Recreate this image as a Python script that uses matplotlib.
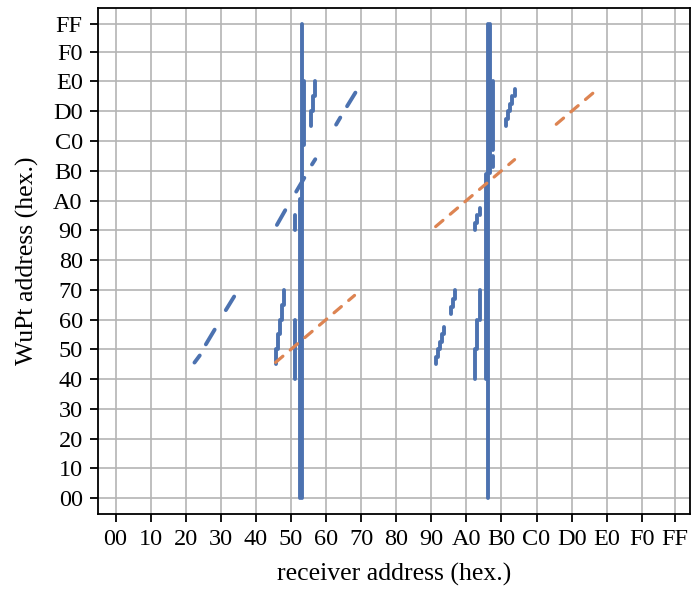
import matplotlib
matplotlib.use("Agg")
import matplotlib.pyplot as plt
from matplotlib.collections import LineCollection

plt.rcParams['font.family'] = ['Liberation Serif', 'DejaVu Serif']

# ---------------- data ----------------
# tick positions / labels (hex)
tick_vals = [0, 16, 32, 48, 64, 80, 96, 112, 128, 144, 160, 176, 192, 208, 224, 240, 255]
tick_labels = ['00', '10', '20', '30', '40', '50', '60', '70', '80', '90',
               'A0', 'B0', 'C0', 'D0', 'E0', 'F0', 'FF']

# blue: vertical runs of WuPt addresses waking a receiver (x, y from, y to)
run_x = [85, 84, 86, 82, 82,
         73, 74, 75, 76, 77,
         89, 90, 91,
         170, 171, 169, 172, 172,
         146, 147, 148, 149, 150,
         153, 154, 155,
         164, 165, 166,
         178, 179, 180, 181, 182,
         164, 165, 166]
run_y0 = [0, 0, 190, 64, 144,
          72, 80, 88, 96, 104,
          200, 208, 216,
          0, 175, 64, 187, 178,
          72, 76, 80, 84, 88,
          99, 103, 107,
          144, 148, 152,
          200, 204, 208, 212, 216,
          64, 80, 96]
run_y1 = [255, 161, 224, 96, 152,
          80, 88, 96, 104, 112,
          208, 216, 224,
          255, 255, 174, 224, 184,
          76, 80, 84, 88, 92,
          103, 107, 112,
          148, 152, 156,
          204, 208, 212, 216, 220,
          80, 96, 112]

# blue: short diagonal pieces (start x, start y, end x, end y)
diag_x0 = [36.0, 41.2, 50.3, 73.6, 82.4, 89.6, 100.6, 105.6]
diag_y0 = [72.9, 82.7, 101.1, 146.9, 164.8, 179.4, 200.8, 210.7]
diag_x1 = [38.4, 45.2, 54.1, 77.4, 86.1, 91.1, 102.5, 109.4]
diag_y1 = [76.7, 90.6, 108.4, 154.8, 172.2, 182.2, 204.6, 218.0]

# orange: intended wake-ups (receiver == WuPt address), pieces
orange_x0 = [73, 146, 201]
orange_x1 = [109, 182, 218]
orange_y0 = [73, 146, 201]
orange_y1 = [109, 182, 218]

BLUE = '#4C72B0'
ORANGE = '#DD8452'

# ---------------- figure ----------------
fig = plt.figure(figsize=(6.93, 5.95), dpi=100)
ax = fig.add_axes([98 / 693, 1 - 514 / 595, 592 / 693, 506 / 595])

segs = [[(x, a), (x, b)] for x, a, b in zip(run_x, run_y0, run_y1)]
segs += [[(a, b), (c, d)] for a, b, c, d in zip(diag_x0, diag_y0, diag_x1, diag_y1)]
lc = LineCollection(segs, colors=BLUE, linewidths=2.8, capstyle='round', zorder=3)
ax.add_collection(lc)

for a, b, c, d in zip(orange_x0, orange_y0, orange_x1, orange_y1):
    ax.plot([a, c], [b, d], color=ORANGE, lw=2.3, dashes=(3.0, 3.0),
            dash_capstyle='round', zorder=4)

ax.set_xlim(-8, 262)
ax.set_ylim(-8.5, 263.5)
ax.set_xticks(tick_vals)
ax.set_xticklabels(tick_labels)
ax.set_yticks(tick_vals)
ax.set_yticklabels(tick_labels)

ax.grid(True, color='#b4b4b4', lw=1.2, zorder=0)
ax.set_axisbelow(True)
for s in ax.spines.values():
    s.set_color('black')
    s.set_linewidth(1.3)
ax.tick_params(axis='both', which='major', length=6, width=1.3, pad=5,
               labelsize=17.5, colors='black')

ax.set_xlabel('receiver address (hex.)', fontsize=18.5, labelpad=9)
ax.set_ylabel('WuPt address (hex.)', fontsize=18.5, labelpad=10)

fig.savefig('out.png', dpi=100)
